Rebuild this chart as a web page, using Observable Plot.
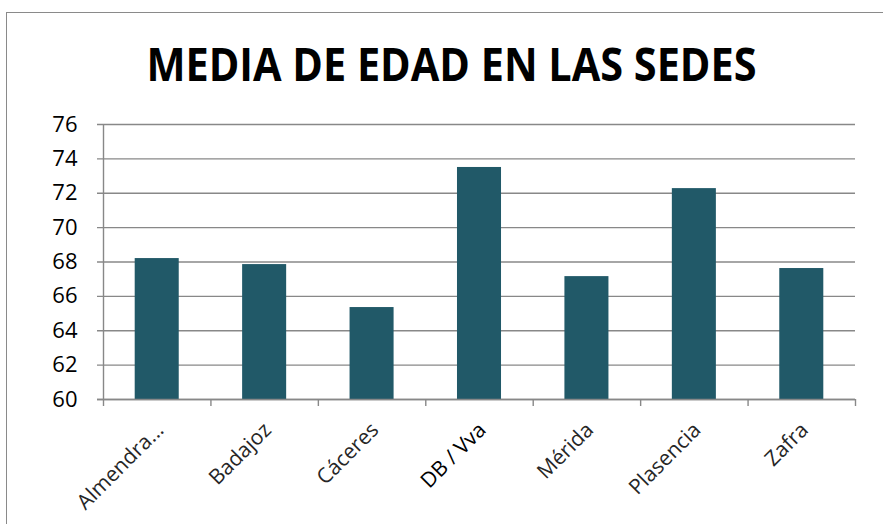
<!DOCTYPE html>
<html>
<head>
<meta charset="utf-8">
<script src="https://cdn.jsdelivr.net/npm/d3@7"></script>
<script src="https://cdn.jsdelivr.net/npm/@observablehq/plot@0.6"></script>
<style>
  html, body { margin: 0; padding: 0; background: #fff; }
  #wrap { position: relative; width: 883px; height: 524px; overflow: hidden; background: #fff; }
  #frame { position: absolute; left: 6px; top: 12px; width: 1000px; height: 1000px;
           border-left: 1px solid #8a8a8a; border-top: 1px solid #8a8a8a; box-sizing: border-box; }
  #title { position: absolute; left: 0; width: 903px; top: 40px; text-align: center;
           font-family: "Open Sans", sans-serif; font-weight: 700; font-size: 46px; color: #000;
           line-height: 1; transform: scaleX(0.9); transform-origin: 451px 0; }
  #chart { position: absolute; left: 0; top: 0; }
</style>
</head>
<body>
<div id="wrap">
  <div id="frame"></div>
  <div id="title">MEDIA DE EDAD EN LAS SEDES</div>
  <div id="chart"></div>
</div>
<script>
const categories = ["Almendra...", "Badajoz", "Cáceres", "DB / Vva", "Mérida", "Plasencia", "Zafra"];
const values = [68.2, 67.85, 65.35, 73.5, 67.15, 72.27, 67.62];
const yTicks = [60, 62, 64, 66, 68, 70, 72, 74, 76];

const data = categories.map((c, i) => ({ name: c, index: i, value: values[i] }));
const gridColor = "#888888";

const chart = Plot.plot({
  width: 883,
  height: 524,
  marginTop: 124,
  marginBottom: 125,
  marginLeft: 103,
  marginRight: 28,
  style: { background: "transparent", fontFamily: "'Open Sans', sans-serif" },
  x: { type: "linear", domain: [0, categories.length], axis: null },
  y: { domain: [60, 76], axis: null },
  marks: [
    Plot.ruleY(yTicks, { stroke: gridColor, strokeWidth: 1.4, insetLeft: -6 }),
    Plot.rectY(data, {
      x1: d => d.index, x2: d => d.index + 1,
      y1: 60, y2: d => d.value,
      fill: "#215968", insetLeft: 31.7, insetRight: 31.7
    }),
    Plot.ruleX([0], { stroke: gridColor, strokeWidth: 1.4 }),
    Plot.ruleY([60], { stroke: gridColor, strokeWidth: 1.6, insetLeft: -6 }),
    Plot.axisX({ ticks: d3.range(categories.length + 1), tickSize: 7, tickFormat: () => "", stroke: gridColor, strokeWidth: 1.4, strokeOpacity: 1 }),
    Plot.axisY({ ticks: yTicks, tickSize: 0, tickPadding: 26, fontSize: 22, fill: "#000", tickFormat: d => String(d) }),
    Plot.text(data, {
      x: d => d.index + 0.5, y: 60, text: d => d.name,
      rotate: -45, textAnchor: "end", dx: 3, dy: 27,
      fontSize: 21, fill: d => d.name === "DB / Vva" ? "#000" : "#262626",
      fontWeight: d => d.name === "DB / Vva" ? 500 : 400
    })
  ]
});
document.getElementById("chart").appendChild(chart);
</script>
</body>
</html>
